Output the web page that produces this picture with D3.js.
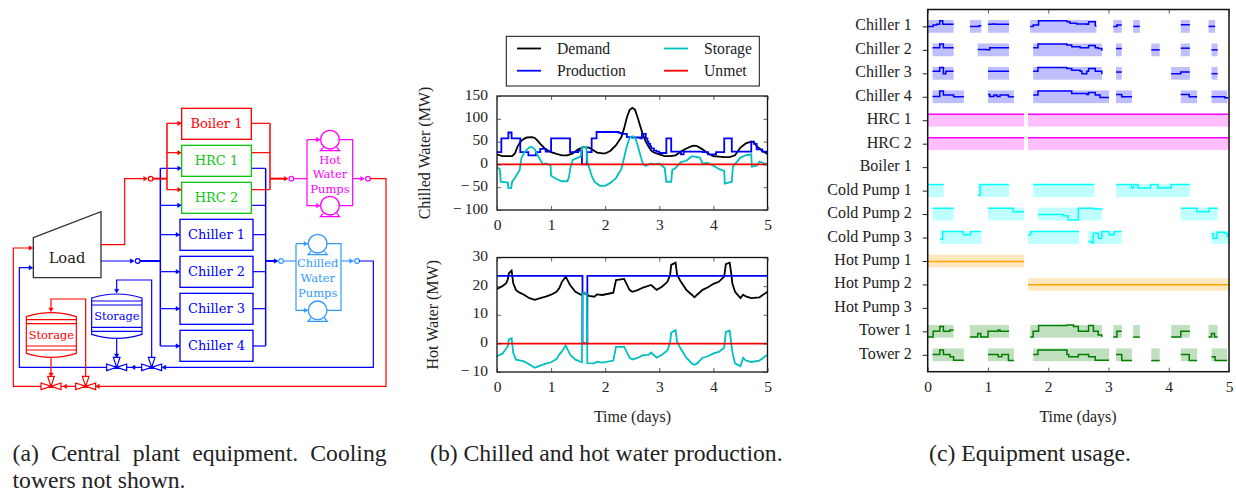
<!DOCTYPE html>
<html>
<head>
<meta charset="utf-8">
<script src="https://cdnjs.cloudflare.com/ajax/libs/d3/7.8.5/d3.min.js"></script>
<style>
    body { margin: 0; background: #fff; }
    text { font-family: "Liberation Serif", serif; fill: #222; }
    .schem text { font-family: "DejaVu Serif", serif; font-size: 39px; text-anchor: middle; }
</style>
</head>
<body>
<svg id="fig" width="1236" height="493"></svg>
<script>
// chilled water (MW), [day, value]
const coldDemand = [[0,22],[.1,18],[.28,18],[.33,24],[.38,39],[.42,47],[.45,52],[.5,56],[.55,59],[.65,60],[.7,58],[.75,52],[.8,45],[.85,39],[.9,33],[1,27],[1.1,23],[1.2,20],[1.3,20],[1.4,24],[1.5,33],[1.6,38],[1.7,37],[1.75,33],[1.85,26],[1.95,24],[2,24],[2.1,30],[2.2,42],[2.3,60],[2.35,79],[2.4,103],[2.45,119],[2.5,124],[2.55,120],[2.6,103],[2.65,83],[2.7,64],[2.75,50],[2.8,39],[2.85,30],[2.9,26],[3,22],[3.1,18],[3.2,18],[3.3,20],[3.4,28],[3.5,35],[3.6,40],[3.65,41],[3.7,40],[3.8,33],[3.9,24],[4,18],[4.1,17],[4.2,16],[4.3,16],[4.4,20],[4.5,37],[4.6,46],[4.7,50],[4.75,48],[4.8,40],[4.9,30],[5,23]];
const coldProduction = [[0,27],[.08,57],[.21,70],[.27,57],[.43,27],[.58,20],[.72,27],[.8,34],[.9,28],[1,57],[1.35,27],[1.5,30],[1.57,0],[1.66,27],[1.75,57],[1.84,71],[2.25,69],[2.3,67],[2.4,60],[2.5,59],[2.65,57],[2.68,67],[2.75,57],[2.78,50],[2.8,45],[2.83,40],[2.85,35],[2.9,30],[2.95,28],[3,25],[3.13,57],[3.22,28],[3.4,22],[3.45,28],[3.8,27],[3.9,22],[4.05,27],[4.2,57],[4.34,28],[4.7,50],[4.75,45],[4.8,33],[4.9,28],[5,22]];
const coldStorage = [[0,-7],[.05,-10],[.07,-38],[.2,-40],[.21,-52],[.26,-52],[.28,-38],[.33,-30],[.38,-20],[.42,-12],[.45,13],[.5,25],[.55,32],[.6,38],[.65,38],[.7,33],[.75,20],[.8,10],[.85,0],[.9,2],[.99,-2],[1,-25],[1.1,-32],[1.2,-37],[1.3,-37],[1.33,-28],[1.36,-5],[1.4,10],[1.5,15],[1.55,18],[1.57,38],[1.65,38],[1.67,5],[1.7,-5],[1.75,-25],[1.8,-38],[1.9,-47],[2,-47],[2.1,-40],[2.2,-30],[2.3,-10],[2.35,15],[2.4,40],[2.45,58],[2.5,62],[2.55,60],[2.6,42],[2.65,20],[2.7,0],[2.75,-3],[2.85,2],[2.9,0],[3,2],[3.1,-8],[3.13,-38],[3.22,-38],[3.24,-12],[3.3,-8],[3.4,5],[3.5,8],[3.6,18],[3.75,15],[3.8,2],[3.9,3],[4,-3],[4.1,-10],[4.2,-14],[4.21,-42],[4.34,-38],[4.36,-5],[4.5,15],[4.6,20],[4.7,22],[4.71,-5],[4.8,-3],[4.85,6],[4.95,2],[5,0]];
const coldUnmet = [[0,0],[5,0]];

// hot water (MW), [day, value]
const hotDemand = [[0,19],[.1,20],[.17,21],[.2,22.4],[.22,24.5],[.27,25.4],[.3,21],[.35,18.7],[.4,17.9],[.5,17],[.6,15.8],[.7,15.2],[.8,15.8],[.9,16.3],[1,17],[1.1,18],[1.15,19.2],[1.2,21.5],[1.27,23.3],[1.35,20.4],[1.45,18],[1.55,17],[1.6,17.7],[1.7,16.6],[1.8,16.3],[1.85,17.1],[1.95,16.9],[2.15,17.7],[2.2,22.1],[2.35,22.5],[2.45,18.7],[2.5,18],[2.6,18.6],[2.7,19.5],[2.85,20.4],[2.95,18.7],[3.05,19.8],[3.15,21.5],[3.2,23.9],[3.22,27.4],[3.3,28.2],[3.33,23.9],[3.4,21.5],[3.5,18.7],[3.6,17],[3.65,16.1],[3.7,17],[3.8,18.7],[3.9,19.6],[4,20.8],[4.1,21.5],[4.2,23.3],[4.23,27.7],[4.3,28.2],[4.33,24.5],[4.35,21],[4.4,18],[4.5,15.8],[4.55,17],[4.6,16.4],[4.7,15.8],[4.85,16.1],[5,18]];
const hotProduction = [[0,23.6],[1.58,0],[1.67,23.6],[5,23.6]];
const hotStorage = [[0,-4.5],[.1,-3.6],[.2,-1],[.22,1.3],[.27,1.8],[.3,-3.3],[.35,-5.7],[.5,-6.3],[.6,-7.4],[.7,-8.5],[.8,-7.8],[.9,-7.1],[1,-6.6],[1.1,-5.5],[1.15,-3.9],[1.2,-2.8],[1.27,-.7],[1.35,-3.9],[1.45,-5.7],[1.57,-6.6],[1.58,17.5],[1.62,17.8],[1.66,17.2],[1.67,-6.9],[1.8,-7],[1.85,-6.4],[1.95,-6.7],[2.15,-6],[2.2,-1.2],[2.35,-1.2],[2.45,-5],[2.5,-5.6],[2.6,-5.1],[2.7,-4.1],[2.8,-4],[2.85,-3.2],[2.95,-5],[3.05,-4],[3.15,-2.5],[3.2,.3],[3.22,3.8],[3.3,4.6],[3.33,.5],[3.4,-2],[3.5,-5],[3.6,-7],[3.65,-7.5],[3.7,-7],[3.8,-5],[3.9,-4.5],[4,-3.5],[4.1,-3],[4.2,-1.5],[4.23,4],[4.3,4.5],[4.33,0],[4.35,-3],[4.4,-7],[4.5,-8],[4.55,-5],[4.6,-6],[4.7,-6.5],[4.85,-6],[5,-4]];
const hotUnmet = [[0,-.1],[5,-.1]];

const dayTicks = [0, 1, 2, 3, 4, 5];
const coldTicks = [-100, -50, 0, 50, 100, 150];
const hotTicks = [-10, 0, 10, 20, 30];

// usage: each run is [day, level] steps, level 0-1 inside the row band
const chiller1 = [
    [[0,.5],[.09,.6],[.15,.66],[.2,.95],[.25,.66],[.43,.66]],
    [[.7,.5],[.85,.55],[.89,.55]],
    [[1,.66],[1.08,.68],[1.13,.66],[1.35,.66]],
    [[1.7,.5],[1.75,.6],[1.84,.95],[2.25,.95],[2.31,.87],[2.36,.74],[2.47,.68],[2.64,.66],[2.67,.87],[2.76,.87],[2.78,.55],[2.8,.55]],
    [[3.08,.5],[3.14,.6],[3.22,.6]],
    [[3.41,.5],[3.52,.5]],
    [[4.2,.63],[4.35,.63]],
    [[4.66,.5],[4.77,.5]]
];
const chiller2 = [
    [[.08,.66],[.2,.95],[.26,.66],[.43,.66]],
    [[.83,.53],[.98,.5],[1.03,.66],[1.35,.66]],
    [[1.75,.66],[1.83,.95],[2.25,.95],[2.31,.87],[2.39,.74],[2.53,.66],[2.67,.84],[2.78,.66],[2.83,.6],[2.89,.42]],
    [[3.125,.6],[3.22,.6]],
    [[3.71,.5],[3.85,.5]],
    [[4.2,.63],[4.35,.63]],
    [[4.71,.5],[4.81,.5]]
];
const chiller3 = [
    [[.08,.66],[.2,.95],[.26,.47],[.3,.66],[.43,.66]],
    [[1,.66],[1.35,.66]],
    [[1.75,.66],[1.83,.95],[2.25,.95],[2.31,.87],[2.39,.74],[2.53,.66],[2.56,.47],[2.64,.66],[2.67,.87],[2.78,.66],[2.89,.42]],
    [[3.125,.6],[3.22,.6]],
    [[4.04,.47],[4.2,.6],[4.35,.6]],
    [[4.71,.47],[4.81,.47]]
];
const chiller4 = [
    [[.08,.53],[.2,.95],[.26,.63],[.43,.5],[.6,.5]],
    [[1,.68],[1.03,.53],[1.1,.63],[1.15,.53],[1.2,.63],[1.34,.5],[1.43,.5]],
    [[1.75,.63],[1.83,.95],[2.25,.95],[2.39,.76],[2.64,.68],[2.67,.84],[2.78,.63],[2.86,.45],[3.01,.45]],
    [[3.125,.68],[3.22,.5],[3.39,.5]],
    [[4.2,.68],[4.34,.5],[4.47,.5]],
    [[4.71,.5],[4.93,.42],[4.97,.34]]
];
const hrc1 = [[[0,.97],[1.6,.97]], [[1.665,.97],[5,.97]]];
const hrc2 = [[[0,.97],[1.6,.97]], [[1.665,.97],[5,.97]]];
const boiler1 = [];
const coldPump1 = [
    [[0,.97],[.265,.97]],
    [[.83,.16],[.87,.97],[1.35,.97]],
    [[1.75,.97],[2.765,.97]],
    [[3.125,.97],[3.38,.71],[3.42,.97],[3.49,.71],[3.7,.97],[3.82,.71],[4.04,.97],[4.35,.97]]
];
const coldPump2 = [
    [[.08,.95],[.43,.95]],
    [[1,.95],[1.42,.68],[1.6,.68]],
    [[1.83,.47],[2.25,.37],[2.33,.03],[2.5,.95],[2.75,.89],[2.89,.95]],
    [[4.2,.95],[4.47,.68],[4.67,.95],[4.81,.95]]
];
const coldPump3 = [
    [[.205,.37],[.25,.97],[.59,.71],[.71,.97],[.89,.97]],
    [[1.665,.71],[1.71,.97],[2.51,.97]],
    [[2.665,.18],[2.72,.1],[2.75,.84],[2.83,.45],[2.89,.97],[3.01,.71],[3.09,.97],[3.22,.97]],
    [[4.71,.79],[4.74,.45],[4.8,.92],[4.93,.84],[4.97,.58],[5,.58]]
];
const hotPump1 = [[[0,.45],[1.6,.45]]];
const hotPump2 = [[[1.665,.47],[5,.47]]];
const hotPump3 = [];
const tower1 = [
    [[0,.05],[.09,.5],[.2,.87],[.26,.5],[.37,.6],[.43,.6]],
    [[.7,.05],[.83,.34],[.88,.05],[1,.5],[1.17,.6],[1.2,.5],[1.35,.5]],
    [[1.7,.05],[1.75,.5],[1.84,.95],[2.25,.95],[2.31,1],[2.42,.87],[2.5,.5],[2.67,.95],[2.75,.5],[2.83,.21],[2.89,.05]],
    [[3.08,.05],[3.14,.5],[3.22,.5]],
    [[3.41,.05],[3.52,.05]],
    [[4.04,.05],[4.2,.5],[4.35,.5]],
    [[4.66,.05],[4.71,.34],[4.76,.05],[4.81,.05]]
];
const tower2 = [
    [[.08,.53],[.2,.87],[.26,.53],[.37,.34],[.43,.08],[.6,.08]],
    [[1,.53],[1.17,.34],[1.23,.53],[1.34,.05],[1.43,.05]],
    [[1.75,.53],[1.83,.87],[2.25,.87],[2.31,.53],[2.34,.34],[2.5,.53],[2.67,.34],[2.78,.08],[3.01,.08]],
    [[3.125,.53],[3.22,.05],[3.39,.05]],
    [[3.71,.05],[3.85,.05]],
    [[4.2,.53],[4.34,.05],[4.47,.05]],
    [[4.71,.34],[4.77,.05],[4.97,.05]]
];

const usageNames = ["Chiller 1","Chiller 2","Chiller 3","Chiller 4","HRC 1","HRC 2","Boiler 1","Cold Pump 1","Cold Pump 2","Cold Pump 3","Hot Pump 1","Hot Pump 2","Hot Pump 3","Tower 1","Tower 2"];
const usageRuns = [chiller1,chiller2,chiller3,chiller4,hrc1,hrc2,boiler1,coldPump1,coldPump2,coldPump3,hotPump1,hotPump2,hotPump3,tower1,tower2];
const usageColors = ["#0000ff","#0000ff","#0000ff","#0000ff","#ff00ff","#ff00ff","#ff0000","#00ffff","#00ffff","#00ffff","#ffa500","#ffa500","#ffa500","#007f00","#007f00"];

const svg = d3.select("#fig");
const minus = v => v < 0 ? "\u2212\u2009" + (-v) : String(v);

function seriesLine(x, y, curve) {
    return d3.line().x(d => x(d[0])).y(d => y(d[1])).curve(curve);
}

function drawTimeAxes(g, x, y, height, width, yTicks) {
    const bottom = g.append("g").attr("transform", `translate(0,${height})`)
        .call(d3.axisBottom(x).tickValues(dayTicks).tickFormat(d3.format("d")).tickSizeInner(-4).tickSizeOuter(0).tickPadding(9));
    const top = g.append("g")
        .call(d3.axisTop(x).tickValues(dayTicks).tickFormat("").tickSizeInner(-4).tickSizeOuter(0));
    const axes = [bottom, top];
    if (yTicks) {
        const yAxis = g.append("g").call(d3.axisLeft(y).tickValues(yTicks).tickFormat(minus).tickSizeInner(-4).tickSizeOuter(0).tickPadding(9));
        axes.push(yAxis);
        axes.push(g.append("g").attr("transform", `translate(${width},0)`)
            .call(d3.axisRight(y).tickValues(yTicks).tickFormat("").tickSizeInner(-4).tickSizeOuter(0)));
        yAxis.selectAll("text").attr("dy", "0.2em");
    }
    axes.forEach(a => {
        a.select(".domain").remove();
        a.selectAll("line").attr("stroke", "#333").attr("stroke-width", .8);
        a.selectAll("text").attr("font-family", "Liberation Serif").attr("font-size", 15.5).attr("fill", "#222");
    });
}

// ---- panel b
function createProduction(top, bottom, domain, yTicks, series, label, labelX, id) {
    const left = 497, right = 767.5;
    const width = right - left, height = bottom - top;
    const g = svg.append("g").attr("transform", `translate(${left},${top})`);
    const x = d3.scaleLinear().domain([0, 5]).range([0, width]);
    const y = d3.scaleLinear().domain(domain).range([height, 0]);
    g.append("clipPath").attr("id", id).append("rect").attr("width", width).attr("height", height);
    series.forEach(s => {
        g.append("path").datum(s.data).attr("d", seriesLine(x, y, s.curve)).attr("fill", "none")
            .attr("stroke", s.color).attr("stroke-width", 1.8).attr("clip-path", `url(#${id})`);
    });
    g.append("rect").attr("width", width).attr("height", height).attr("fill", "none").attr("stroke", "#111").attr("stroke-width", 1.3);
    drawTimeAxes(g, x, y, height, width, yTicks);
    svg.append("text").attr("transform", `translate(${labelX},${(top + bottom) / 2}) rotate(-90)`)
        .attr("text-anchor", "middle").attr("font-size", 16).text(label);
}
const seriesColors = { Demand: "#000000", Production: "#0000ff", Storage: "#00bfbf", Unmet: "#ff0000" };
createProduction(96, 210, [-100, 150], coldTicks, [
    { data: coldDemand, color: seriesColors.Demand, curve: d3.curveLinear },
    { data: coldProduction, color: seriesColors.Production, curve: d3.curveStepAfter },
    { data: coldStorage, color: seriesColors.Storage, curve: d3.curveLinear },
    { data: coldUnmet, color: seriesColors.Unmet, curve: d3.curveLinear }
], "Chilled Water (MW)", 430, "clipCold");
createProduction(257.5, 372, [-10, 30], hotTicks, [
    { data: hotDemand, color: seriesColors.Demand, curve: d3.curveLinear },
    { data: hotProduction, color: seriesColors.Production, curve: d3.curveStepAfter },
    { data: hotStorage, color: seriesColors.Storage, curve: d3.curveLinear },
    { data: hotUnmet, color: seriesColors.Unmet, curve: d3.curveLinear }
], "Hot Water (MW)", 438, "clipHot");
svg.append("text").attr("x", 632.5).attr("y", 422).attr("text-anchor", "middle").attr("font-size", 16).text("Time (days)");

// legend
const legend = svg.append("g");
legend.append("rect").attr("x", 506.3).attr("y", 36.3).attr("width", 253).attr("height", 49.7)
    .attr("fill", "#fff").attr("stroke", "#111").attr("stroke-width", 1);
[["Demand", 517, 48.5], ["Production", 517, 70.7], ["Storage", 664, 48.5], ["Unmet", 664, 70.7]].forEach(([name, lx, ly]) => {
    legend.append("line").attr("x1", lx).attr("x2", lx + 24).attr("y1", ly).attr("y2", ly)
        .attr("stroke", seriesColors[name]).attr("stroke-width", 1.8);
    legend.append("text").attr("x", lx + 40).attr("y", ly + 5).attr("font-size", 15.7).text(name);
});

// ---- panel c
function createUsage() {
    const left = 927.7, right = 1229, top = 9.5, bottom = 371.7;
    const width = right - left, height = bottom - top;
    const g = svg.append("g").attr("transform", `translate(${left},${top})`);
    const x = d3.scaleLinear().domain([0, 5]).range([0, width]);
    const rowY = d3.scalePoint().domain(usageNames).range([0, height]).padding(.72);
    const band = 12.8;
    usageNames.forEach((name, i) => {
        const level = d3.scaleLinear().domain([0, 1]).range([rowY(name) + band / 2, rowY(name) - band / 2]);
        const line = seriesLine(x, level, d3.curveStepAfter);
        usageRuns[i].forEach(run => {
            g.append("rect").attr("x", x(run[0][0])).attr("width", x(run[run.length - 1][0]) - x(run[0][0]))
                .attr("y", level(1)).attr("height", band)
                .attr("fill", usageColors[i]).attr("fill-opacity", .25);
            g.append("path").datum(run).attr("d", line).attr("fill", "none")
                .attr("stroke", usageColors[i]).attr("stroke-width", 1.5);
        });
    });
    g.append("rect").attr("width", width).attr("height", height).attr("fill", "none").attr("stroke", "#111").attr("stroke-width", 1.5);
    drawTimeAxes(g, x, null, height, width, null);
    const yAxis = g.append("g").call(d3.axisLeft(rowY).tickSizeInner(5).tickSizeOuter(0).tickPadding(11));
    yAxis.select(".domain").remove();
    yAxis.selectAll("line").attr("stroke", "#222").attr("stroke-width", 1);
    yAxis.selectAll("text").attr("font-family", "Liberation Serif").attr("font-size", 16).attr("fill", "#222").attr("dy", "0.22em");
    svg.append("text").attr("x", 1078).attr("y", 422).attr("text-anchor", "middle").attr("font-size", 16).text("Time (days)");
}
createUsage();

// ---- panel a, laid out in 3x units so it reads like the source drawing
const schem = svg.append("g").attr("class", "schem").attr("transform", "translate(0,90) scale(0.33333)");
const RED = "#ff0000", BLUE = "#0000ff", GREEN = "#11c411", SKY = "#3399ff", PINK = "#ff00ff";

function pipe(color, pts, w) {
    schem.append("path").attr("d", d3.line()(pts)).attr("fill", "none").attr("stroke", color).attr("stroke-width", w || 3.6);
}
function arrow(color, cx, cy, dir) {
    const r = { right: 0, down: 90, left: 180, up: 270 }[dir];
    schem.append("path").attr("d", "M-11,-6.5L0,0L-11,6.5Z").attr("fill", color)
        .attr("stroke", color).attr("stroke-width", 1.5)
        .attr("transform", `translate(${cx},${cy}) rotate(${r})`);
}
function node(color, cx, cy) {
    schem.append("circle").attr("cx", cx).attr("cy", cy).attr("r", 7).attr("fill", "#fff").attr("stroke", color).attr("stroke-width", 3.6);
}
function box(name, x0, y0, x1, y1, color) {
    schem.append("rect").attr("x", x0).attr("y", y0).attr("width", x1 - x0).attr("height", y1 - y0)
        .attr("fill", "#fff").attr("stroke", color).attr("stroke-width", 4);
    schem.append("text").attr("x", (x0 + x1) / 2).attr("y", (y0 + y1) / 2 + 13).style("fill", color).text(name);
}
function pump(color, cx, cy) {
    schem.append("path").attr("d", `M${cx - 20},${cy + 23}L${cx - 29},${cy + 33}H${cx + 29}L${cx + 20},${cy + 23}`)
        .attr("fill", "none").attr("stroke", color).attr("stroke-width", 3.6);
    schem.append("circle").attr("cx", cx).attr("cy", cy).attr("r", 28).attr("fill", "#fff").attr("stroke", color).attr("stroke-width", 4);
}
function valve(color, cx, cy) {
    schem.append("path").attr("d", `M${cx - 30},${cy - 10}L${cx},${cy}L${cx - 30},${cy + 10}ZM${cx + 30},${cy - 10}L${cx},${cy}L${cx + 30},${cy + 10}ZM${cx - 10},${cy - 30}H${cx + 10}L${cx},${cy}Z`)
        .attr("fill", "#fff").attr("stroke", color).attr("stroke-width", 3.6);
}
function tank(color, x0, y0, x1, y1, label) {
    const mid = (x0 + x1) / 2;
    schem.append("path").attr("d", `M${x0},${y0 + 12}Q${mid},${y0 - 12} ${x1},${y0 + 12}V${y1 - 12}Q${mid},${y1 + 12} ${x0},${y1 - 12}Z`)
        .attr("fill", "#fff").attr("stroke", color).attr("stroke-width", 3.6);
    [21, 33, 100, 112].forEach(d => pipe(color, [[x0, y0 + d], [x1, y0 + d]]));
    schem.append("text").attr("x", mid).attr("y", (y0 + y1) / 2 + 12).style("fill", color).style("font-size", "34px").text(label);
}
function pumpLoop(color, x0, x1, y0, y1, pumpX, words, wordY) {
    pipe(color, [[x0, y0], [x1, y0], [x1, y1], [x0, y1], [x0, y0]]);
    pump(color, pumpX, y0);
    pump(color, pumpX, y1);
    arrow(color, pumpX - 30, y0, "right");
    arrow(color, pumpX - 30, y1, "right");
    words.forEach((w, i) => schem.append("text").attr("x", pumpX).attr("y", wordY[i]).style("fill", color).style("font-size", "34.5px").text(w));
}

// load
schem.append("path").attr("d", "M100,443L303,365V563H100Z").attr("fill", "#fff").attr("stroke", "#333").attr("stroke-width", 4);
schem.append("text").attr("x", 201).attr("y", 518).style("fill", "#222").style("font-size", "44px").text("Load");

// chilled water side
pipe(BLUE, [[303, 513], [400, 513]]);
arrow(BLUE, 402, 513, "right");
pipe(BLUE, [[419, 513], [481, 513]], 6);
pipe(BLUE, [[481, 235], [481, 768]], 4.5);
[235, 346, 434, 545, 656, 768].forEach(y => {
    const end = (y < 400 ? 545 : 540);
    pipe(BLUE, [[481, y], [end, y]]);
    arrow(BLUE, end - 1, y, "right");
    pipe(BLUE, [[750, y], [797, y]]);
});
pipe(BLUE, [[797, 235], [797, 768]], 4.5);
pipe(BLUE, [[797, 513], [825, 513]], 6);
arrow(BLUE, 834, 513, "right");
pipe(SKY, [[849, 513], [888, 513]]);
pumpLoop(SKY, 888, 1023, 461, 661, 953, ["Chilled", "Water", "Pumps"], [532, 577, 622]);
pipe(SKY, [[1023, 513], [1060, 513]]);
arrow(SKY, 1060, 513, "right");
node(SKY, 843, 513);
node(BLUE, 413, 513);
node(SKY, 1071, 513);
pipe(BLUE, [[1077, 513], [1120, 513], [1120, 832], [490, 832]]);
arrow(BLUE, 486, 832, "left");
pipe(BLUE, [[425, 832], [58, 832], [58, 533], [97, 533]]);
arrow(BLUE, 98, 533, "right");
arrow(BLUE, 394, 832, "left");
pipe(BLUE, [[455, 815], [455, 570], [350, 570], [350, 605]]);
arrow(BLUE, 350, 609, "down");
tank(BLUE, 275, 612, 426, 745, "Storage");
pipe(BLUE, [[350, 745], [350, 795]]);
arrow(BLUE, 350, 803, "down");
valve(BLUE, 350, 832);
valve(BLUE, 455, 832);

// hot water side
pipe(RED, [[303, 464], [374, 464], [374, 266], [440, 266]]);
arrow(RED, 442, 266, "right");
pipe(RED, [[458, 266], [501, 266]], 6);
pipe(RED, [[501, 100], [501, 299]], 4.5);
[100, 188, 299].forEach(y => {
    pipe(RED, [[501, y], [545, y]]);
    arrow(RED, 544, y, "right");
    pipe(RED, [[750, y], [810, y]]);
});
pipe(RED, [[810, 100], [810, 299]], 4.5);
pipe(RED, [[810, 266], [855, 266]], 6);
arrow(RED, 864, 266, "right");
pipe(PINK, [[880, 266], [921, 266]]);
pumpLoop(PINK, 921, 1058, 149, 347, 990, ["Hot", "Water", "Pumps"], [221, 265, 310]);
pipe(PINK, [[1058, 266], [1090, 266]]);
arrow(PINK, 1093, 266, "right");
node(RED, 452, 266);
node(PINK, 874, 266);
node(PINK, 1104, 266);
pipe(RED, [[1110, 266], [1158, 266], [1158, 889], [290, 889]]);
arrow(RED, 287, 889, "left");
pipe(RED, [[225, 889], [40, 889], [40, 474], [97, 474]]);
arrow(RED, 98, 474, "right");
arrow(RED, 189, 889, "left");
pipe(RED, [[257, 872], [257, 627], [153, 627], [153, 660]]);
arrow(RED, 153, 665, "down");
tank(RED, 79, 668, 229, 802, "Storage");
pipe(RED, [[153, 802], [153, 850]]);
arrow(RED, 153, 860, "down");
valve(RED, 153, 889);
valve(RED, 257, 889);

// equipment boxes go over the pipes
box("Boiler 1", 545, 55, 754, 148, RED);
box("HRC 1", 545, 166, 754, 259, GREEN);
box("HRC 2", 545, 277, 754, 370, GREEN);
box("Chiller 1", 540, 388, 759, 481, BLUE);
box("Chiller 2", 540, 499, 759, 592, BLUE);
box("Chiller 3", 540, 610, 759, 703, BLUE);
box("Chiller 4", 540, 721, 759, 814, BLUE);

// ---- captions
const captions = [
    ["(a) Central plant equipment. Cooling", 12.5, 461, 6.2],
    ["towers not shown.", 12.5, 487.5, 0],
    ["(b) Chilled and hot water production.", 430, 461, 0],
    ["(c) Equipment usage.", 929, 461, 0]
];
captions.forEach(([t, cx, cy, ws]) => {
    svg.append("text").attr("x", cx).attr("y", cy).attr("font-size", 23.7).attr("word-spacing", ws).text(t);
});
</script>
</body>
</html>
